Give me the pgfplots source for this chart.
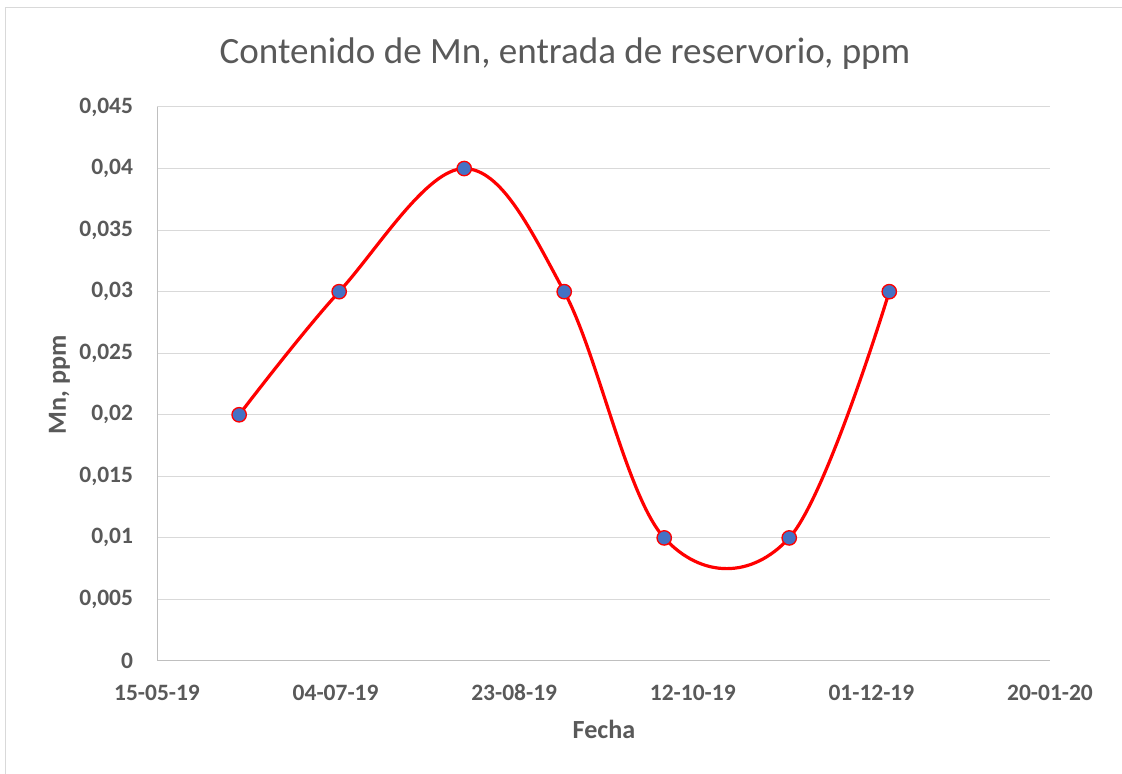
\documentclass[border=0pt]{standalone}
\usepackage{pgfplots}
\pgfplotsset{compat=1.18}
\usepackage{fontspec}
\setmainfont{Carlito}
\definecolor{txt}{HTML}{595959}
\definecolor{grd}{HTML}{D9D9D9}
\definecolor{axl}{HTML}{BFBFBF}
\definecolor{mk}{HTML}{4472C4}
\begin{document}
\begin{tikzpicture}
\path[use as bounding box] (0,0) rectangle (841.5pt,580.5pt);
\draw[grd, line width=0.75pt] (3.75pt,0) -- (3.75pt,574.5pt) -- (841.5pt,574.5pt);
\begin{axis}[
  at={(117.75pt,84.75pt)}, anchor=south west,
  scale only axis, width=669.75pt, height=415.5pt,
  xmin=0, xmax=250, ymin=0, ymax=0.045,
  scaled y ticks=false, scaled x ticks=false,
  xtick={0,50,100,150,200,250},
  xticklabels={15-05-19,04-07-19,23-08-19,12-10-19,01-12-19,20-01-20},
  ytick={0,0.005,0.01,0.015,0.02,0.025,0.03,0.035,0.04,0.045},
  yticklabels={0,{0,005},{0,01},{0,015},{0,02},{0,025},{0,03},{0,035},{0,04},{0,045}},
  axis x line*=bottom, axis y line*=left,
  axis line style={axl, line width=0.75pt, -},
  major tick length=0pt,
  ymajorgrids, grid style={grd, line width=0.75pt},
  tick label style={font=\fontsize{17.6pt}{20pt}\selectfont\bfseries, text=txt},
  yticklabel style={anchor=east, inner sep=0pt, xshift=-17.8pt},
  xticklabel style={anchor=base, inner sep=0pt, yshift=-30pt},
  clip=false,
]
\addplot[red, line width=2.4pt, smooth, tension=0.6,
  mark=*, mark size=5.4pt, mark options={fill=mk, draw=red, line width=1pt}]
  coordinates {(23,0.02) (51,0.03) (86,0.04) (114,0.03) (142,0.01) (177,0.01) (205,0.03)};
\end{axis}
\node[anchor=base, text=txt, font=\fontsize{27.8pt}{32pt}\selectfont, inner sep=0pt] at (423.75pt,532.5pt) {Contenido de Mn, entrada de reservorio, ppm};
\node[anchor=base, text=txt, font=\fontsize{19.6pt}{23pt}\selectfont\bfseries, inner sep=0pt] at (453pt,26.25pt) {Fecha};
\node[anchor=base, rotate=90, text=txt, font=\fontsize{19.6pt}{23pt}\selectfont\bfseries, inner sep=0pt] at (49.5pt,291.75pt) {Mn, ppm};
\end{tikzpicture}
\end{document}
